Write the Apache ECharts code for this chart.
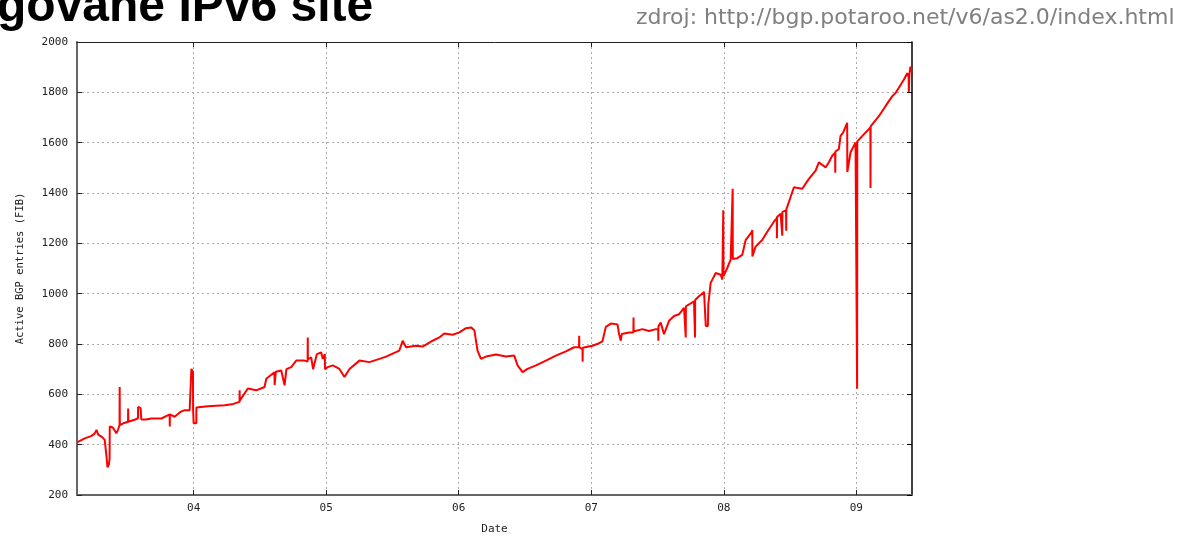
<!DOCTYPE html>
<html>
<head>
<meta charset="utf-8">
<title>Active BGP entries (FIB)</title>
<script src="https://cdn.jsdelivr.net/npm/echarts@6/dist/echarts.min.js"></script>
<style>
  html, body { margin: 0; padding: 0; background: #fff; }
  #chart { width: 1196px; height: 540px; }
</style>
</head>
<body>
<div id="chart"></div>
<script>
// osa x: rok (desetinne), osa y: pocet aktivnich BGP zaznamu
var yearTicks = [2004, 2005, 2006, 2007, 2008, 2009];
var yTicks = [200, 400, 600, 800, 1000, 1200, 1400, 1600, 1800, 2000];

// body krivky (vcetne spicek a propadu)
var dates = [
  2003.124, 2003.179, 2003.230, 2003.254, 2003.267, 2003.280, 2003.310, 2003.329, 2003.340, 2003.344,
  2003.350, 2003.360, 2003.366, 2003.367, 2003.390, 2003.417, 2003.430, 2003.441, 2003.442, 2003.443,
  2003.470, 2003.505, 2003.506, 2003.507, 2003.560, 2003.580, 2003.581, 2003.600, 2003.605, 2003.640,
  2003.681, 2003.757, 2003.800, 2003.819, 2003.820, 2003.821, 2003.832, 2003.857, 2003.900, 2003.932,
  2003.970, 2003.982, 2003.983, 2003.995, 2003.996, 2004.000, 2004.020, 2004.021, 2004.032, 2004.108,
  2004.234, 2004.300, 2004.346, 2004.347, 2004.348, 2004.409, 2004.472, 2004.535, 2004.548, 2004.610,
  2004.611, 2004.620, 2004.661, 2004.686, 2004.700, 2004.736, 2004.774, 2004.836, 2004.860, 2004.861,
  2004.862, 2004.887, 2004.900, 2004.901, 2004.930, 2004.962, 2004.974, 2004.990, 2004.991, 2005.012,
  2005.050, 2005.100, 2005.138, 2005.176, 2005.251, 2005.326, 2005.402, 2005.452, 2005.552, 2005.577,
  2005.603, 2005.678, 2005.728, 2005.803, 2005.854, 2005.891, 2005.954, 2006.005, 2006.055, 2006.093,
  2006.118, 2006.142, 2006.168, 2006.206, 2006.281, 2006.356, 2006.419, 2006.444, 2006.482, 2006.519,
  2006.583, 2006.658, 2006.733, 2006.809, 2006.871, 2006.908, 2006.909, 2006.910, 2006.934, 2006.935,
  2006.936, 2007.009, 2007.060, 2007.084, 2007.110, 2007.148, 2007.198, 2007.210, 2007.223, 2007.230,
  2007.286, 2007.318, 2007.319, 2007.320, 2007.386, 2007.436, 2007.487, 2007.505, 2007.506, 2007.507,
  2007.524, 2007.549, 2007.587, 2007.625, 2007.662, 2007.700, 2007.712, 2007.713, 2007.714, 2007.738,
  2007.775, 2007.782, 2007.783, 2007.784, 2007.813, 2007.851, 2007.863, 2007.864, 2007.880, 2007.883,
  2007.901, 2007.939, 2007.977, 2007.989, 2007.995, 2007.996, 2007.998, 2008.026, 2008.052, 2008.066,
  2008.067, 2008.068, 2008.102, 2008.139, 2008.165, 2008.210, 2008.215, 2008.216, 2008.240, 2008.290,
  2008.328, 2008.378, 2008.400, 2008.401, 2008.402, 2008.429, 2008.440, 2008.441, 2008.442, 2008.470,
  2008.471, 2008.472, 2008.479, 2008.504, 2008.529, 2008.592, 2008.642, 2008.693, 2008.717, 2008.768,
  2008.793, 2008.818, 2008.840, 2008.841, 2008.842, 2008.868, 2008.881, 2008.900, 2008.931, 2008.932,
  2008.956, 2008.994, 2009.005, 2009.006, 2009.007, 2009.069, 2009.106, 2009.107, 2009.108, 2009.170,
  2009.220, 2009.270, 2009.296, 2009.358, 2009.384, 2009.395, 2009.396, 2009.400, 2009.408, 2009.420
];
var entries = [
  410, 425, 435, 445, 459, 440, 430, 419, 415, 345,
  310, 320, 345, 472, 468, 445, 460, 478, 629, 478,
  485, 491, 544, 491, 500, 505, 550, 545, 500, 500,
  504, 504, 515, 520, 472, 520, 524, 511, 530, 537,
  537, 540, 701, 690, 540, 485, 485, 548, 550, 553,
  557, 562, 570, 616, 575, 623, 616, 629, 662, 688,
  637, 690, 695, 636, 700, 708, 734, 734, 730, 826,
  740, 747, 750, 700, 760, 767, 741, 760, 700, 708,
  715, 701, 669, 701, 734, 728, 741, 750, 774, 813,
  787, 793, 790, 813, 826, 842, 837, 846, 863, 866,
  855, 774, 741, 750, 758, 750, 754, 715, 688, 701,
  715, 734, 754, 771, 787, 787, 833, 787, 780, 730,
  785, 793, 803, 810, 868, 881, 878, 839, 813, 840,
  846, 846, 905, 850, 859, 852, 859, 860, 813, 870,
  885, 839, 892, 911, 918, 944, 946, 826, 950, 957,
  970, 972, 826, 975, 990, 1007, 1000, 872, 872, 957,
  1043, 1082, 1075, 1056, 1060, 1331, 1070, 1102, 1135, 1135,
  1417, 1138, 1141, 1154, 1213, 1245, 1253, 1148, 1187, 1213,
  1246, 1286, 1300, 1220, 1305, 1318, 1325, 1230, 1325, 1331,
  1250, 1335, 1331, 1384, 1423, 1417, 1456, 1489, 1522, 1502,
  1522, 1548, 1560, 1480, 1565, 1574, 1627, 1640, 1679, 1483,
  1561, 1601, 1600, 622, 1605, 1640, 1660, 1420, 1665, 1705,
  1745, 1784, 1797, 1850, 1876, 1860, 1800, 1870, 1902, 1880
];

var titleText = "govane IPv6 site";
var sourceText = "zdroj: http://bgp.potaroo.net/v6/as2.0/index.html";

var chart = echarts.init(document.getElementById("chart"));
var monoFont = "DejaVu Sans Mono";
var gridLine = { show: true, lineStyle: { color: "#aaa", type: [2, 3], width: 1 } };

var option = {
  animation: false,
  backgroundColor: "#fff",
  grid: { left: 77, top: 42, right: 284, bottom: 40, containLabel: false },
  graphic: [
    {
      type: "text", left: -3, top: -16,
      style: { text: titleText, font: "bold 48px 'Liberation Sans'", fill: "#000" }
    },
    {
      type: "text", left: 636, top: 7,
      style: { text: sourceText, font: "22px 'DejaVu Sans'", fill: "#808080" }
    }
  ],
  xAxis: [
    {
      type: "value", min: 2003.12, max: 2009.42,
      name: "Date", nameLocation: "middle", nameGap: 29,
      nameTextStyle: { fontFamily: monoFont, fontSize: 11, color: "#222" },
      axisLine: { show: true, lineStyle: { color: "#666", width: 2 } },
      axisTick: { show: true, inside: true, length: 5, customValues: yearTicks, lineStyle: { color: "#222" } },
      axisLabel: {
        customValues: yearTicks, margin: 8,
        fontFamily: monoFont, fontSize: 11, color: "#222",
        formatter: function (v) { return String(Math.round(v)).slice(2); }
      },
      splitLine: gridLine
    },
    {
      type: "value", position: "top", min: 2003.12, max: 2009.42,
      axisLine: { show: true, lineStyle: { color: "#222", width: 1 } },
      axisTick: { show: true, inside: true, length: 5, customValues: yearTicks, lineStyle: { color: "#222" } },
      axisLabel: { show: false },
      splitLine: { show: false }
    }
  ],
  yAxis: [
    {
      type: "value", min: 200, max: 2000, interval: 200,
      name: "Active BGP entries (FIB)", nameLocation: "middle", nameGap: 51, nameRotate: 90,
      nameTextStyle: { fontFamily: monoFont, fontSize: 10.5, color: "#222" },
      axisLine: { show: true, lineStyle: { color: "#666", width: 2 } },
      axisTick: { show: true, inside: true, length: 5, lineStyle: { color: "#222" } },
      axisLabel: {
        margin: 9, fontFamily: monoFont, fontSize: 11, color: "#222",
        formatter: function (v) { return yTicks.indexOf(v) >= 0 ? String(v) : ""; }
      },
      splitLine: gridLine
    },
    {
      type: "value", position: "right", min: 200, max: 2000, interval: 200,
      axisLine: { show: true, lineStyle: { color: "#000", width: 1.5 } },
      axisTick: { show: true, inside: true, length: 5, lineStyle: { color: "#000" } },
      axisLabel: { show: false },
      splitLine: { show: false }
    }
  ],
  series: [
    {
      type: "line",
      xAxisIndex: 0, yAxisIndex: 0,
      showSymbol: false,
      lineStyle: { color: "#ff0000", width: 2 },
      data: dates.map(function (d, i) { return [d, entries[i]]; })
    }
  ]
};

chart.setOption(option);
</script>
</body>
</html>
